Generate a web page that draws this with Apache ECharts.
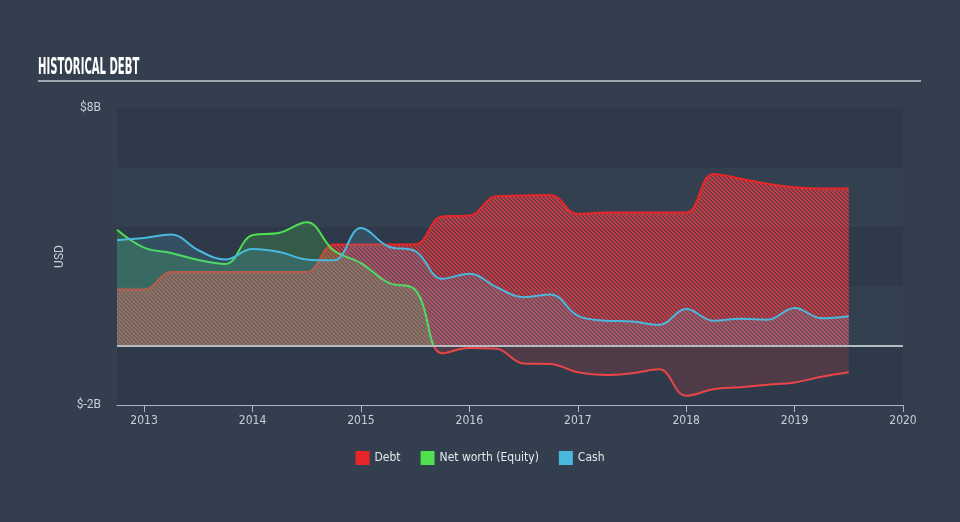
<!DOCTYPE html>
<html>
<head>
<meta charset="utf-8">
<script src="https://cdn.jsdelivr.net/npm/echarts@6/dist/echarts.min.js"></script>
<style>
html,body{margin:0;padding:0;background:#333f4e;}
#chart{width:960px;height:522px;}
</style>
</head>
<body>
<div id="chart"></div>
<script>
// Quarter-end dates as decimal years
var quarters = [2012.75, 2013.0, 2013.25, 2013.5, 2013.75, 2014.0, 2014.25, 2014.5, 2014.75,
  2015.0, 2015.25, 2015.5, 2015.75, 2016.0, 2016.25, 2016.5, 2016.75, 2017.0, 2017.25,
  2017.5, 2017.75, 2018.0, 2018.25, 2018.5, 2018.75, 2019.0, 2019.25, 2019.5];
// Values in billions USD
var debt = [1.89, 1.89, 2.48, 2.48, 2.48, 2.48, 2.48, 2.48, 3.40,
  3.40, 3.40, 3.41, 4.35, 4.38, 5.03, 5.05, 5.07, 4.43, 4.48,
  4.48, 4.48, 4.48, 5.78, 5.62, 5.45, 5.33, 5.29, 5.30];
var netWorth = [3.90, 3.30, 3.12, 2.88, 2.75, 3.72, 3.80, 4.15, 3.20,
  2.78, 2.12, 1.88, -0.26, -0.08, -0.11, -0.60, -0.62, -0.90, -0.99,
  -0.93, -0.80, -1.69, -1.47, -1.40, -1.32, -1.24, -1.05, -0.90];
var cash = [3.55, 3.62, 3.74, 3.21, 2.90, 3.25, 3.15, 2.90, 2.87,
  3.96, 3.34, 3.18, 2.25, 2.42, 1.97, 1.63, 1.72, 1.01, 0.84,
  0.81, 0.70, 1.23, 0.84, 0.90, 0.87, 1.27, 0.92, 0.99];
var yearTicks = [2013, 2014, 2015, 2016, 2017, 2018, 2019, 2020];
var seriesNames = ['Debt', 'Net worth (Equity)', 'Cash'];

function pairs(xs, ys) { return xs.map(function (x, i) { return [x, ys[i]]; }); }

// hatch pattern for the debt area
function hatch() {
  var c = document.createElement('canvas');
  c.width = 4; c.height = 4;
  var g = c.getContext('2d');
  for (var y = 0; y < 4; y++) {
    for (var x = 0; x < 4; x++) {
      var k = ((x - y) % 4 + 4) % 4;
      g.fillStyle = (k < 2) ? 'rgba(228,62,68,0.82)' : 'rgba(214,50,62,0.42)';
      g.fillRect(x, y, 1, 1);
    }
  }
  return c;
}

var H = 522;
var SM = 0.4;
var chart = echarts.init(document.getElementById('chart'), null, {renderer: 'canvas'});
var txt = '#c9ced4';
var option = {
  backgroundColor: '#333f4e',
  animation: false,
  graphic: [
    {type: 'text', left: 38, top: 57, scaleX: 0.56, scaleY: 1.15,
      style: {text: 'HISTORICAL DEBT', fill: '#ffffff', font: 'bold 20px "DejaVu Sans Condensed", "DejaVu Sans"'}},
    {type: 'line', shape: {x1: 38, y1: 81, x2: 921, y2: 81},
      style: {stroke: '#9ea6af', lineWidth: 2}}
  ],
  legend: {
    bottom: 52, left: 'center',
    icon: 'rect', itemWidth: 14, itemHeight: 14, itemGap: 20,
    textStyle: {color: '#e6e8ea', fontSize: 12, fontFamily: '"DejaVu Sans Condensed", "DejaVu Sans"'},
    data: [
      {name: seriesNames[0], itemStyle: {color: '#e8262a'}},
      {name: seriesNames[1], itemStyle: {color: '#4ee04e'}},
      {name: seriesNames[2], itemStyle: {color: '#4bb8de'}}
    ]
  },
  grid: {left: 117, right: 57, top: 108, bottom: 117},
  xAxis: {
    type: 'value', min: 2012.75, max: 2020,
    axisLine: {show: true, onZero: false, lineStyle: {color: '#aeb8c4', width: 1}},
    axisTick: {show: true, length: 7, customValues: yearTicks, lineStyle: {color: '#aeb8c4'}},
    axisLabel: {customValues: yearTicks, color: txt, fontSize: 12, margin: 10,
      fontFamily: '"DejaVu Sans Condensed", "DejaVu Sans"',
      formatter: function (v) { return String(Math.round(v)); }},
    splitLine: {show: false}
  },
  yAxis: {
    type: 'value', min: -2, max: 8, interval: 2,
    name: 'USD', nameLocation: 'middle', nameGap: 22, nameRotate: 90,
    nameTextStyle: {color: txt, fontSize: 12, fontFamily: 'Roboto'},
    axisLine: {show: false}, axisTick: {show: false},
    axisLabel: {color: txt, fontSize: 12, margin: 16, fontFamily: 'Roboto',
      formatter: function (v) { return (v === 8 || v === -2) ? '$' + v + 'B' : ''; }},
    splitLine: {show: false},
    splitArea: {show: true, areaStyle: {color: ['#2e3a49', '#334050']}}
  },
  series: [
    {
      name: seriesNames[0], type: 'line', data: pairs(quarters, debt),
      smooth: SM, showSymbol: false,
      lineStyle: {color: '#e8262a', width: 2},
      itemStyle: {color: '#e8262a'},
      areaStyle: {color: {image: hatch(), repeat: 'repeat'}, opacity: 1},
      markLine: {
        silent: true, symbol: 'none', label: {show: false},
        lineStyle: {color: '#b6bcc2', width: 2, type: 'solid'},
        data: [{yAxis: 0}]
      },
      z: 2
    },
    {
      name: seriesNames[1], type: 'line', data: pairs(quarters, netWorth),
      smooth: SM, showSymbol: false,
      lineStyle: {color: '#4ee04e', width: 2},
      itemStyle: {color: '#4ee04e'},
      areaStyle: {color: 'rgba(78,224,78,0.28)'},
      z: 3
    },
    {
      name: seriesNames[2], type: 'line', data: pairs(quarters, cash),
      smooth: SM, showSymbol: false,
      lineStyle: {color: '#4bb8de', width: 2},
      itemStyle: {color: '#4bb8de'},
      areaStyle: {color: 'rgba(75,184,222,0.24)'},
      z: 4
    }
  ]
};
chart.setOption(option);

// colour net worth by sign: green above the zero line, red below
var y0 = chart.convertToPixel({yAxisIndex: 0}, 0);
var f = y0 / H;
function signGrad(pos, neg) {
  return {type: 'linear', x: 0, y: 0, x2: 0, y2: H, global: true,
    colorStops: [{offset: 0, color: pos}, {offset: f, color: pos},
      {offset: f, color: neg}, {offset: 1, color: neg}]};
}
chart.setOption({series: [{}, {
  lineStyle: {color: signGrad('#4ee04e', '#ea4448')},
  areaStyle: {color: signGrad('rgba(78,224,78,0.28)', 'rgba(232,60,66,0.26)')}
}, {}]});
</script>
</body>
</html>
